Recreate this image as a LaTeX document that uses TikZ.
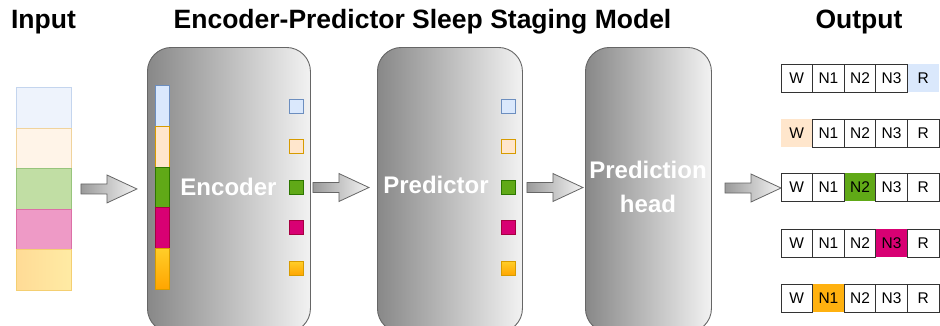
\documentclass[tikz,border=0pt]{standalone}
\usepackage{fontspec}
\setmainfont{Liberation Sans}
\usetikzlibrary{calc}

% palette
\definecolor{boxdark}{HTML}{888888}
\definecolor{boxlight}{HTML}{F2F2F2}
\definecolor{boxedge}{HTML}{666666}
\definecolor{arrdark}{HTML}{9A9A9A}
\definecolor{arrlight}{HTML}{F4F4F4}
% full-strength token colours
\definecolor{cblue}{HTML}{DAE8FC}   \definecolor{cblueD}{HTML}{6C8EBF}
\definecolor{cpeach}{HTML}{FFE6CC}  \definecolor{cpeachD}{HTML}{D79B00}
\definecolor{cgreen}{HTML}{60A917}  \definecolor{cgreenD}{HTML}{2D7600}
\definecolor{cpink}{HTML}{D80073}   \definecolor{cpinkD}{HTML}{A50040}
\definecolor{cyelT}{HTML}{FFCD28}   \definecolor{cyelB}{HTML}{FFA500}
\definecolor{cyelD}{HTML}{D79B00}
% faded input colours
\definecolor{inA}{HTML}{EEF3FC}  \definecolor{inAD}{HTML}{C4D5EE}
\definecolor{inB}{HTML}{FFF4E8}  \definecolor{inBD}{HTML}{F0D39C}
\definecolor{inC}{HTML}{C1DEA4}  \definecolor{inCD}{HTML}{98C47C}
\definecolor{inD}{HTML}{EE9AC6}  \definecolor{inDD}{HTML}{DC70A6}
\definecolor{inEL}{HTML}{FFDB96} \definecolor{inER}{HTML}{FFEBA4}
\definecolor{inED}{HTML}{F4CF72}
\definecolor{outorange}{HTML}{FFB10F}

\tikzset{
  bigbox/.style={draw=boxedge, line width=0.9pt, left color=boxdark, right color=boxlight,
    rounded corners=24pt, minimum width=#1, minimum height=285pt, inner sep=0pt, anchor=north west},
  boxlabel/.style={text=white, font=\bfseries\fontsize{24}{24}\selectfont, anchor=base, inner sep=0pt},
  heading/.style={font=\bfseries\fontsize{26.5}{26.5}\selectfont, anchor=base, inner sep=0pt},
  inseg/.style={minimum width=55pt, minimum height=40.6pt, inner sep=0pt, anchor=north west, line width=0.9pt},
  stripseg/.style={minimum width=14pt, minimum height=40.8pt, inner sep=0pt, anchor=north west, line width=0.9pt},
  token/.style={minimum size=14pt, inner sep=0pt, line width=0.9pt},
  cell/.style={minimum width=31.6pt, minimum height=28pt, inner sep=0pt, draw=black!80, line width=0.9pt,
    font=\fontsize{15.5}{15.5}\selectfont},
  blockarrow/.style={draw=boxedge, line width=0.8pt, left color=arrdark, right color=arrlight},
}

% block arrow whose tail centre is at #1
\newcommand\blockarrow[1]{%
  \path[blockarrow] (#1) ++(0,-5) -- ++(26,0) -- ++(0,-9) -- ++(30,14) -- ++(-30,14)
    -- ++(0,-9) -- ++(-26,0) -- cycle;}

\begin{document}
\begin{tikzpicture}[x=1pt, y=-1pt]
\useasboundingbox (0,0) rectangle (940,325);

% headings
\node[heading] (tin)  at (43.5,28)  {Input};
\node[heading] (tmod) at (422.5,28) {Encoder-Predictor Sleep Staging Model};
\node[heading] (tout) at (859,28) {Output};

% model blocks (run past the lower edge)
\begin{scope}
  \clip (0,0) rectangle (940,325);
  \node[bigbox=163pt] (enc)  at (147,47) {};
  \node[bigbox=145pt] (pred) at (377,47) {};
  \node[bigbox=126pt] (head) at (585,47) {};
\end{scope}

\node[boxlabel] (enctxt)  at (228.5,195) {Encoder};
\node[boxlabel] (predtxt) at (436,193) {Predictor};
\node[boxlabel] (headtxt) at (648,178) {Prediction};
\node[boxlabel] (headtxtb) at (648,212) {head};

% input epochs
\node[inseg, fill=inA, draw=inAD] (in1) at (16,87) {};
\node[inseg, fill=inB, draw=inBD] (in2) at (16,127.6) {};
\node[inseg, fill=inC, draw=inCD] (in3) at (16,168.2) {};
\node[inseg, fill=inD, draw=inDD] (in4) at (16,208.8) {};
\node[inseg, left color=inEL, right color=inER, draw=inED] (in5) at (16,249.4) {};

% encoder input strip
\node[stripseg, fill=cblue,  draw=cblueD]  (s1) at (155,85) {};
\node[stripseg, fill=cpeach, draw=cpeachD] (s2) at (155,125.8) {};
\node[stripseg, fill=cgreen, draw=cgreenD] (s3) at (155,166.6) {};
\node[stripseg, fill=cpink,  draw=cpinkD]  (s4) at (155,207.4) {};
\node[stripseg, top color=cyelT, bottom color=cyelB, draw=cyelD] (s5) at (155,248.2) {};

% embedding tokens
\foreach \px/\pre in {296/e, 508.5/p}{
  \node[token, fill=cblue,  draw=cblueD]  (\pre1) at (\px,106) {};
  \node[token, fill=cpeach, draw=cpeachD] (\pre2) at (\px,146.5) {};
  \node[token, fill=cgreen, draw=cgreenD] (\pre3) at (\px,187.5) {};
  \node[token, fill=cpink,  draw=cpinkD]  (\pre4) at (\px,227.5) {};
  \node[token, top color=cyelT, bottom color=cyelB, draw=cyelD] (\pre5) at (\px,268.5) {};
}

% flow arrows
\coordinate (a1) at ($(in3.east)+(9,0)$);
\coordinate (a2) at ($(enc.east |- e3)+(2,0)$);
\coordinate (a3) at ($(pred.east |- p3)+(4,0)$);
\coordinate (a4) at (725,188);
\blockarrow{a1}
\blockarrow{a2}
\blockarrow{a3}
\blockarrow{a4}

% predicted stage rows
\foreach \r/\t/\h/\c in {1/64/5/cblue, 2/119/1/cpeach, 3/173/3/cgreen, 4/229/4/cpink, 5/284/2/outorange}{
  \foreach \k/\lab in {1/W,2/N1,3/N2,4/N3,5/R}{
    \ifnum\k=\h\relax
      \node[cell, fill=\c, draw=none] (o\r\k) at ({781+(\k-0.5)*31.6},{\t+14}) {\lab};
    \fi
  }
  \foreach \k/\lab in {1/W,2/N1,3/N2,4/N3,5/R}{
    \ifnum\k=\h\relax\else
      \node[cell] (o\r\k) at ({781+(\k-0.5)*31.6},{\t+14}) {\lab};
    \fi
  }
}
\end{tikzpicture}
\end{document}
